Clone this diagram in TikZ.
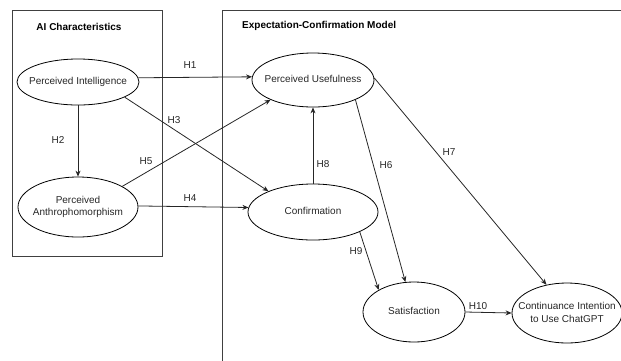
\documentclass[tikz,border=0pt]{standalone}
\usepackage{fontspec}
\setmainfont{Liberation Sans}
\usetikzlibrary{shapes.geometric,arrows.meta}
\newcommand{\fixw}[1]{\makebox[0pt]{\begin{tabular}{@{}c@{}}#1\end{tabular}}}
\begin{document}
\begin{tikzpicture}[x=1pt,y=-1pt,
  var/.style={draw=black,line width=0.8pt,ellipse,inner sep=0pt,
    font=\fontsize{10}{12.5}\selectfont,text=black!85},
  conn/.style={draw=black!85,line width=0.8pt,-{Stealth[length=6pt,width=5pt]}},
  hlab/.style={font=\fontsize{10}{12}\selectfont,text=black!85,inner sep=0pt},
  boxline/.style={draw=black!75,line width=0.9pt},
  title/.style={font=\fontsize{10}{12}\selectfont\bfseries,inner sep=0pt}]
\useasboundingbox (0,0) rectangle (621,360);
% containers
\draw[boxline] (12,10) rectangle (162,256);
\draw[boxline] (621,10) -- (222,10) -- (222,362);
\node[title] (t1) at (79,27) {AI Characteristics};
\node[title,anchor=west] (t2) at (242,26) {Expectation-Confirmation Model};
% variables
\node[var,minimum width=122pt,minimum height=46pt] (PI) at (78,82) {\fixw{Perceived Intelligence}};
\node[var,minimum width=120pt,minimum height=60pt] (PA) at (78,207) {\fixw{Perceived\\Anthrophomorphism}};
\node[var,minimum width=122pt,minimum height=54pt] (PU) at (313,80) {\fixw{Perceived Usefulness}};
\node[var,minimum width=130pt,minimum height=56pt] (CO) at (313,212) {\fixw{Confirmation}};
\node[var,minimum width=102pt,minimum height=60pt] (SA) at (414,312) {\fixw{Satisfaction}};
\node[var,minimum width=110pt,minimum height=60pt,font=\fontsize{10}{13}\selectfont] (CI) at (567,313) {\fixw{Continuance Intention\\to Use ChatGPT}};
% connectors
\draw[conn] (PI.4.7) -- (PU.177.2);
\draw[conn] (PI.south) -- (PA.north);
\draw[conn] (PI.-18.4) -- (CO.155.5);
\draw[conn] (PA.25.5) -- (PU.-155.9);
\draw[conn] (PA.1) -- (CO.176.5);
\draw[conn] (CO.north) -- (PU.south);
\draw[conn] (PU.-25.5) -- (SA.106.7);
\draw[conn] (PU.2.9) -- (CI.126.9);
\draw[conn] (CO.-23.5) -- (SA.148.6);
\draw[conn] (SA.east) -- (CI.west);
% labels
\node[hlab] (h1) at (190,65) {H1};
\node[hlab] (h2) at (58,140) {H2};
\node[hlab] (h3) at (174,120) {H3};
\node[hlab] (h4) at (190,198) {H4};
\node[hlab] (h5) at (146,161) {H5};
\node[hlab] (h6) at (386,165) {H6};
\node[hlab] (h7) at (449,152) {H7};
\node[hlab] (h8) at (323,164) {H8};
\node[hlab] (h9) at (356,251) {H9};
\node[hlab] (h10) at (478,306) {H10};
\end{tikzpicture}
\end{document}
